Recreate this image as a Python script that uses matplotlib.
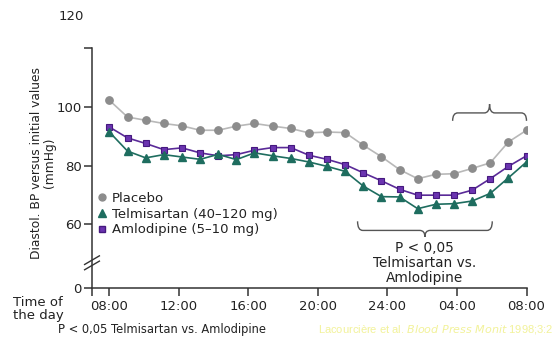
import numpy as np
import matplotlib
matplotlib.use("Agg")
import matplotlib.pyplot as plt
from matplotlib.path import Path
from matplotlib.patches import PathPatch
from matplotlib.lines import Line2D

# Diastolic BP, hourly means from 08:00 to 08:00 next day (24 readings)
placebo = [102.2, 96.5, 95.4, 94.3, 93.5, 92.0, 92.0, 93.4, 94.3, 93.4, 92.6, 91.1,
           91.4, 91.2, 86.9, 83.0, 78.6, 75.5, 77.0, 77.2, 79.0, 80.9, 88.0, 92.0]
telmisartan = [91.4, 84.9, 82.6, 83.7, 82.9, 82.1, 83.8, 82.0, 84.3, 83.3, 82.4, 81.2,
               79.7, 78.0, 73.0, 69.4, 69.3, 65.3, 66.8, 67.0, 67.9, 70.5, 75.8, 81.2]
amlodipine = [93.1, 89.4, 87.5, 85.4, 86.0, 84.3, 83.3, 83.7, 85.2, 86.1, 86.1, 83.5,
              82.1, 80.3, 77.5, 74.8, 71.9, 69.9, 69.9, 69.9, 71.6, 75.5, 79.7, 83.3]
series_names = ["Placebo", "Telmisartan (40\u2013120 mg)", "Amlodipine (5\u201310 mg)"]

xtick_pos = [8, 12, 16, 20, 24, 28, 32]
xtick_labels = ["08:00", "12:00", "16:00", "20:00", "24:00", "04:00", "08:00"]
ytick_labels = ["0", "60", "80", "100", ""]

ZERO_POS = 38.3   # where "0" sits below the axis break
hours = np.linspace(8, 32, len(placebo))

W, H = 553, 338
fig = plt.figure(figsize=(W / 100, H / 100), dpi=100)
ax = fig.add_axes([92 / W, 1 - 288 / H, (526.5 - 92) / W, 240 / H])

# colours
c_pl_line, c_pl = "#b8b8b8", "#8c8c8c"
c_te = "#1e6d5f"
c_am_line, c_am, c_am_edge = "#5a2a98", "#6b34b0", "#45197f"
axc = "#333333"

ax.plot(hours, placebo, color=c_pl_line, lw=1.2, marker="o", ms=5.3,
        mfc=c_pl, mec=c_pl, zorder=3)
ax.plot(hours, amlodipine, color=c_am_line, lw=1.2, marker="s", ms=4.6,
        mfc=c_am, mec=c_am_edge, mew=0.8, zorder=4)
ax.plot(hours, telmisartan, color=c_te, lw=1.2, marker="^", ms=5.8,
        mfc=c_te, mec=c_te, zorder=5)

ax.set_xlim(7, 32)
ax.set_ylim(ZERO_POS, 120)
ax.set_xticks([7] + xtick_pos)
ax.set_xticklabels([""] + xtick_labels)
ax.set_yticks([ZERO_POS, 60, 80, 100, 120])
ax.set_yticklabels(ytick_labels)

for s in ["top", "right"]:
    ax.spines[s].set_visible(False)
for s in ["left", "bottom"]:
    ax.spines[s].set_color(axc)
    ax.spines[s].set_linewidth(1.1)
ax.tick_params(axis="both", colors=axc, width=1.1, length=6, labelsize=9.5,
               labelcolor="#222222")
ax.tick_params(axis="y", pad=1.5)
ax.tick_params(axis="x", pad=3)

# axis break marks
for yb in (0.094, 0.116):
    ax.plot([-0.017, 0.017], [yb - 0.018, yb + 0.018], transform=ax.transAxes,
            color=axc, lw=1.0, clip_on=False, zorder=6)


def brace(ax, x0, x1, y_end, y_mid, y_tip, r):
    xc = (x0 + x1) / 2
    verts = [(x0, y_end), (x0, y_mid), (x0 + r, y_mid),
             (xc - r, y_mid), (xc, y_mid), (xc, y_tip),
             (xc, y_mid), (xc + r, y_mid),
             (x1 - r, y_mid), (x1, y_mid), (x1, y_end)]
    codes = [Path.MOVETO, Path.CURVE3, Path.CURVE3, Path.LINETO,
             Path.CURVE3, Path.CURVE3, Path.CURVE3, Path.CURVE3,
             Path.LINETO, Path.CURVE3, Path.CURVE3]
    ax.add_patch(PathPatch(Path(verts, codes), fill=False, ec="#555555",
                           lw=1.0, clip_on=False))


brace(ax, 27.75, 32.0, 95.2, 97.9, 100.9, 0.3)
brace(ax, 22.28, 30.03, 61.0, 57.9, 55.7, 0.3)

ax.text(26.15, 46.8, "P < 0,05\nTelmisartan vs.\nAmlodipine", ha="center",
        va="center", fontsize=9.8, color="#222222", linespacing=1.05)

# legend (markers only)
handles = [Line2D([], [], ls="none", marker="o", ms=5, mfc=c_pl, mec=c_pl),
           Line2D([], [], ls="none", marker="^", ms=5.5, mfc=c_te, mec=c_te),
           Line2D([], [], ls="none", marker="s", ms=4.3, mfc=c_am, mec=c_am_edge)]
leg = ax.legend(handles, series_names, loc="upper left",
                bbox_to_anchor=(98 / W, 1 - 192 / H), bbox_transform=fig.transFigure,
                frameon=False, fontsize=9.5, handlelength=0.6, handletextpad=0.45,
                labelspacing=0.2, borderpad=0, borderaxespad=0)
for t in leg.get_texts():
    t.set_color("#222222")

# labels / texts
fig.text(43 / W, 1 - 163 / H, "Diastol. BP versus initial values\n(mmHg)",
         rotation=90, ha="center", va="center", fontsize=8.8, color="#222222",
         multialignment="center", linespacing=1.05)
fig.text(71.5 / W, 1 - 16 / H, "120", ha="center", va="center", fontsize=9.5,
         color="#222222")
fig.text(13 / W, 1 - 309 / H, "Time of\nthe day", ha="left", va="center",
         fontsize=9.5, color="#222222", linespacing=1.05)
fig.text(58 / W, 1 - 330 / H, "P < 0,05 Telmisartan vs. Amlodipine", ha="left",
         va="center", fontsize=8.3, color="#222222")
fig.text(318 / W, 1 - 330 / H,
         "Lacourci\u00e8re et al. $\\it{Blood\\ Press\\ Monit}$ 1998;3:2",
         ha="left", va="center", fontsize=8.0, color="#f2f29a",
         family="Liberation Sans")

fig.savefig("out.png", dpi=100)
